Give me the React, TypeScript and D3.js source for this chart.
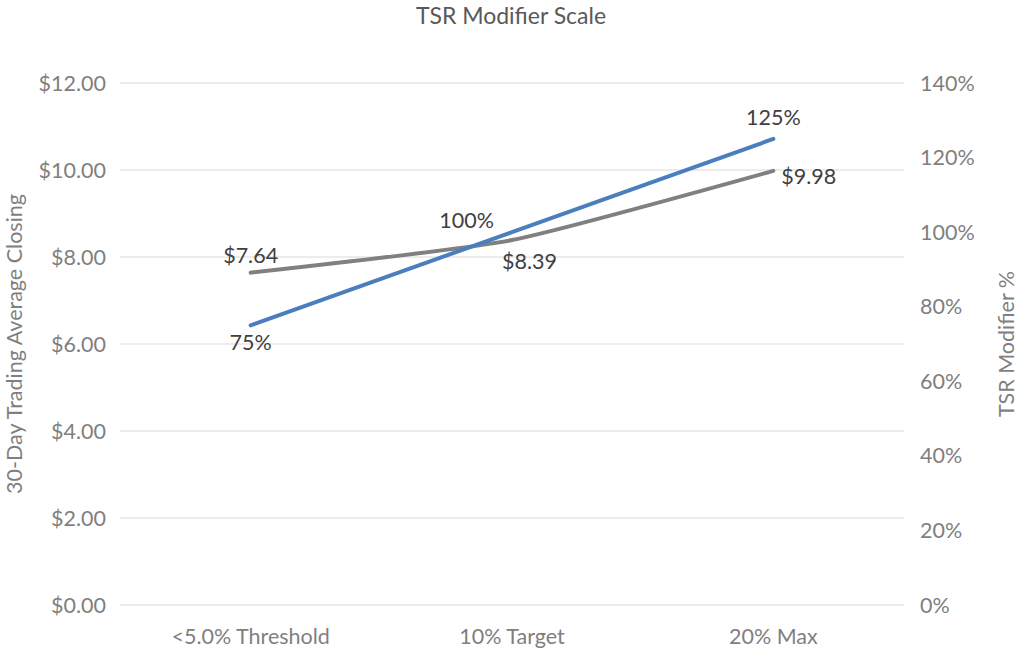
import { useRef, useEffect } from 'react';
import * as d3 from 'd3';

const categories = ['<5.0% Threshold', '10% Target', '20% Max'];
const closingPrice = [7.64, 8.39, 9.98];
const modifierPct = [75, 100, 125];
const leftTicks = [0, 2, 4, 6, 8, 10, 12];
const rightTicks = [0, 20, 40, 60, 80, 100, 120, 140];

const FONT = 'Lato, "Open Sans", sans-serif';
const FS = '21.5px';

export default function App() {
    const ref = useRef<SVGSVGElement>(null);

    useEffect(() => {
        if (!ref.current) return;
        const svg = d3.select(ref.current);
        svg.selectAll('*').remove();

        const left = 120, right = 904, top = 83, bottom = 605;

        const x = d3.scaleBand().domain(categories).range([left, right]);
        const xc = (c: string) => (x(c) || 0) + x.bandwidth() / 2;
        const yL = d3.scaleLinear().domain([0, 12]).range([bottom, top]);
        const yR = d3.scaleLinear().domain([0, 140]).range([bottom, top]);

        // title
        svg.append('text')
            .attr('x', 511).attr('y', 16)
            .attr('dy', '0.35em')
            .attr('text-anchor', 'middle')
            .style('font-size', '23px').style('fill', '#595959')
            .text('TSR Modifier Scale');

        // gridlines
        svg.append('g').selectAll('line').data(leftTicks).enter().append('line')
            .attr('x1', left).attr('x2', right)
            .attr('y1', d => yL(d)).attr('y2', d => yL(d))
            .style('stroke', '#d9d9d9').style('stroke-width', 1);

        // left ticks
        svg.append('g').selectAll('text').data(leftTicks).enter().append('text')
            .attr('x', 106).attr('y', d => yL(d))
            .attr('dy', '0.35em').attr('text-anchor', 'end')
            .style('font-size', FS).style('fill', '#7f7f7f')
            .text(d => `$${d.toFixed(2)}`);

        // right ticks
        svg.append('g').selectAll('text').data(rightTicks).enter().append('text')
            .attr('x', 920).attr('y', d => yR(d))
            .attr('dy', '0.35em').attr('text-anchor', 'start')
            .style('font-size', FS).style('fill', '#7f7f7f')
            .text(d => `${d}%`);

        // category labels
        svg.append('g').selectAll('text').data(categories).enter().append('text')
            .attr('x', d => xc(d)).attr('y', 636)
            .attr('dy', '0.35em').attr('text-anchor', 'middle')
            .style('font-size', FS).style('fill', '#7f7f7f')
            .text(d => d);

        // axis titles
        svg.append('text')
            .attr('transform', `translate(14,${(top + bottom) / 2}) rotate(-90)`)
            .attr('text-anchor', 'middle').attr('dy', '0.35em')
            .style('font-size', FS).style('fill', '#7f7f7f')
            .text('30-Day Trading Average Closing');
        svg.append('text')
            .attr('transform', `translate(1006,${(top + bottom) / 2}) rotate(-90)`)
            .attr('text-anchor', 'middle').attr('dy', '0.35em')
            .style('font-size', FS).style('fill', '#7f7f7f')
            .text('TSR Modifier %');

        // smoothed lines
        const priceLine = d3.line<number>()
            .x((_, i) => xc(categories[i]))
            .y(d => yL(d))
            .curve(d3.curveCardinal.tension(0.5));
        const pctLine = d3.line<number>()
            .x((_, i) => xc(categories[i]))
            .y(d => yR(d))
            .curve(d3.curveCardinal.tension(0.5));

        svg.append('path').datum(closingPrice)
            .attr('d', priceLine)
            .style('fill', 'none').style('stroke', '#808080')
            .style('stroke-width', 4).style('stroke-linecap', 'round');
        svg.append('path').datum(modifierPct)
            .attr('d', pctLine)
            .style('fill', 'none').style('stroke', '#4a7ebf')
            .style('stroke-width', 4).style('stroke-linecap', 'round');

        // data labels
        const priceOffsets = [[0, -17, 'middle'], [-10, 21, 'start'], [8, 6, 'start']];
        const pctOffsets = [[0, 17, 'middle'], [-18, -12, 'end'], [0, -21, 'middle']];

        closingPrice.forEach((v, i) => {
            const [dx, dy, anchor] = priceOffsets[i];
            svg.append('text')
                .attr('x', xc(categories[i]) + (dx as number))
                .attr('y', yL(v) + (dy as number))
                .attr('dy', '0.35em').attr('text-anchor', anchor as string)
                .style('font-size', FS).style('fill', '#404040')
                .text(`$${v.toFixed(2)}`);
        });
        modifierPct.forEach((v, i) => {
            const [dx, dy, anchor] = pctOffsets[i];
            svg.append('text')
                .attr('x', xc(categories[i]) + (dx as number))
                .attr('y', yR(v) + (dy as number))
                .attr('dy', '0.35em').attr('text-anchor', anchor as string)
                .style('font-size', FS).style('fill', '#404040')
                .text(`${v}%`);
        });
    }, []);

    return (
        <svg ref={ref} width={1022} height={652}
            style={{ position: 'absolute', left: 0, top: 0, fontFamily: FONT, background: '#fff' }} />
    );
}
